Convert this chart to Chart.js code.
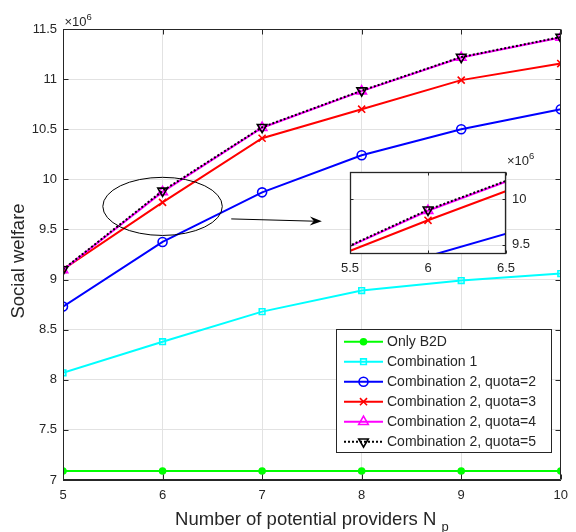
<!DOCTYPE html>
<html><head><meta charset="utf-8">
<script src="https://cdn.jsdelivr.net/npm/chart.js"></script>
<style>
html,body{margin:0;padding:0;background:#fff;}
#wrap{position:relative;width:576px;height:532px;overflow:hidden;}
#main{position:absolute;left:0;top:0;}
#inset{position:absolute;left:340px;top:150px;}
</style></head><body>
<div id="wrap"><canvas id="main" width="576" height="532"></canvas><canvas id="inset" width="206" height="135"></canvas></div>
<script>
// ---- data (values in units of 10^6) ----
const xValues = [5, 6, 7, 8, 9, 10];
const onlyB2D = [7.09, 7.09, 7.09, 7.09, 7.09, 7.09];
const combination1 = [8.07, 8.38, 8.68, 8.89, 8.99, 9.06];
const quota2 = [8.73, 9.375, 9.87, 10.24, 10.50, 10.70];
const quota3 = [9.10, 9.77, 10.41, 10.70, 10.99, 11.155];
const quota4 = [9.095, 9.875, 10.515, 10.88, 11.215, 11.415];
const quota5 = [9.10, 9.885, 10.52, 10.885, 11.22, 11.42];
const seriesLabels = ['Only B2D', 'Combination 1', 'Combination 2, quota=2',
  'Combination 2, quota=3', 'Combination 2, quota=4', 'Combination 2, quota=5'];
const xTickValues = [5, 6, 7, 8, 9, 10];
const yTickValues = [7, 7.5, 8, 8.5, 9, 9.5, 10, 10.5, 11, 11.5];
const insetXTicks = [5.5, 6, 6.5];
const insetYTicks = [9.5, 10];
const insetXRange = [5.5, 6.5];
const insetYRange = [9.4, 10.3];
const exponentLabel = '6';
const xTitle = 'Number of potential providers N ';
const xTitleSub = 'p';
const yTitle = 'Social welfare';

const AX = '#262626';
const GRID = '#e2e2e2';
const FONT = '"Liberation Sans", Arial, Helvetica, sans-serif';

const styles = [
  {color: '#00ff00', ps: 'circle', r: 3, bg: '#00ff00', dash: [], rot: 0},
  {color: '#00ffff', ps: 'rect', r: 4, bg: 'rgba(0,0,0,0)', dash: [], rot: 0},
  {color: '#0000ff', ps: 'circle', r: 4.5, bg: 'rgba(0,0,0,0)', dash: [], rot: 0},
  {color: '#ff0000', ps: 'crossRot', r: 5, bg: 'rgba(0,0,0,0)', dash: [], rot: 0},
  {color: '#ff00ff', ps: 'triangle', r: 5.5, bg: 'rgba(0,0,0,0)', dash: [], rot: 0},
  {color: '#000000', ps: 'triangle', r: 5.5, bg: 'rgba(0,0,0,0)', dash: [2, 2], rot: 180}
];
const seriesValues = [onlyB2D, combination1, quota2, quota3, quota4, quota5];

function makeDatasets(range) {
  return seriesValues.map((vals, k) => {
    const ds = {
      label: seriesLabels[k],
      data: xValues.map((x, i) => ({x: x, y: vals[i]})),
      borderColor: styles[k].color,
      backgroundColor: styles[k].bg,
      pointBackgroundColor: styles[k].bg,
      pointBorderColor: styles[k].color,
      pointStyle: styles[k].ps,
      pointRadius: styles[k].r,
      pointRotation: styles[k].rot,
      pointBorderWidth: 1.6,
      borderWidth: 2,
      borderDash: styles[k].dash,
      order: 6 - k,
      tension: 0,
      fill: false
    };
    if (range) {
      ds.clip = 0;
      ds.pointRadius = (c) => {
        const p = c.raw;
        if (!p) return styles[k].r;
        const inside = p.x >= range.x[0] && p.x <= range.x[1] && p.y >= range.y[0] && p.y <= range.y[1];
        return inside ? styles[k].r : 0;
      };
    }
    return ds;
  });
}

function drawMarker(ctx, st, x, y) {
  ctx.save();
  ctx.strokeStyle = st.color;
  ctx.fillStyle = st.bg;
  ctx.lineWidth = 1.6;
  ctx.setLineDash([]);
  if (Chart.helpers && Chart.helpers.drawPoint) {
    Chart.helpers.drawPoint(ctx, {pointStyle: st.ps, radius: st.r, rotation: st.rot, borderWidth: 1.6}, x, y);
  } else {
    ctx.beginPath(); ctx.arc(x, y, st.r, 0, Math.PI * 2); ctx.fill(); ctx.stroke();
  }
  ctx.restore();
}

const mainPlugin = {
  id: 'mainDecor',
  afterDatasetsDraw(chart) {
    const ctx = chart.ctx, a = chart.chartArea;
    const xs = chart.scales.x, ys = chart.scales.y;
    ctx.save();
    ctx.strokeStyle = AX; ctx.lineWidth = 1; ctx.setLineDash([]);
    const L = Math.round(a.left) + 0.5, R = Math.round(a.right) - 0.5;
    const T = Math.round(a.top) + 0.5, B = Math.round(a.bottom) - 0.5;
    ctx.beginPath();
    ctx.moveTo(L, T); ctx.lineTo(R, T); ctx.lineTo(R, B); ctx.lineTo(L, B); ctx.lineTo(L, T);
    ctx.stroke();
    const tl = 5;
    ctx.beginPath();
    xTickValues.forEach(v => {
      const px = Math.round(xs.getPixelForValue(v)) + 0.5;
      ctx.moveTo(px, B); ctx.lineTo(px, B - tl);
      ctx.moveTo(px, T); ctx.lineTo(px, T + tl);
    });
    yTickValues.forEach(v => {
      const py = Math.round(ys.getPixelForValue(v)) + 0.5;
      ctx.moveTo(L, py); ctx.lineTo(L + tl, py);
      ctx.moveTo(R, py); ctx.lineTo(R - tl, py);
    });
    ctx.stroke();

    // ellipse annotation (data coordinates)
    const cx = xs.getPixelForValue(6), cy = ys.getPixelForValue(9.73);
    const rx = xs.getPixelForValue(6.6) - cx, ry = cy - ys.getPixelForValue(10.02);
    ctx.strokeStyle = '#000'; ctx.lineWidth = 1;
    ctx.beginPath(); ctx.ellipse(cx, cy, rx, ry, 0, 0, Math.PI * 2); ctx.stroke();
    // arrow
    const x1 = xs.getPixelForValue(6.69), y1 = ys.getPixelForValue(9.605);
    const x2 = xs.getPixelForValue(7.6), y2 = ys.getPixelForValue(9.582);
    ctx.beginPath(); ctx.moveTo(x1, y1); ctx.lineTo(x2 - 6, y2); ctx.stroke();
    const ang = Math.atan2(y2 - y1, x2 - x1);
    ctx.save(); ctx.translate(x2, y2); ctx.rotate(ang);
    ctx.fillStyle = '#000';
    ctx.beginPath(); ctx.moveTo(0, 0); ctx.lineTo(-12, -4.5); ctx.lineTo(-8, 0); ctx.lineTo(-12, 4.5); ctx.closePath(); ctx.fill();
    ctx.restore();

    // exponent label
    ctx.fillStyle = AX; ctx.textBaseline = 'alphabetic'; ctx.textAlign = 'left';
    ctx.font = '13px ' + FONT;
    ctx.fillText('\u00d710', L + 1, T - 4);
    const w = ctx.measureText('\u00d710').width;
    ctx.font = '9.5px ' + FONT;
    ctx.fillText(exponentLabel, L + 1 + w, T - 10);

    // axis titles
    ctx.font = '18.5px ' + FONT;
    const tw = ctx.measureText(xTitle).width;
    ctx.font = '13px ' + FONT;
    const sw = ctx.measureText(xTitleSub).width;
    const tx = (a.left + a.right) / 2 - (tw + sw) / 2;
    ctx.font = '18.5px ' + FONT;
    ctx.fillText(xTitle, tx, 525);
    ctx.font = '13px ' + FONT;
    ctx.fillText(xTitleSub, tx + tw, 531);
    ctx.save();
    ctx.translate(24, 261); ctx.rotate(-Math.PI / 2);
    ctx.font = '18.5px ' + FONT; ctx.textAlign = 'center';
    ctx.fillText(yTitle, 0, 0);
    ctx.restore();

    // legend
    const lx = 336.5, ly = 329.5, lw = 215, lh = 123;
    ctx.fillStyle = '#fff'; ctx.fillRect(lx, ly, lw, lh);
    ctx.strokeStyle = AX; ctx.lineWidth = 1; ctx.strokeRect(lx, ly, lw, lh);
    chart.data.datasets.forEach((ds, k) => {
      const yy = 341.7 + k * 20;
      const st = styles[k];
      ctx.strokeStyle = st.color; ctx.lineWidth = 2; ctx.setLineDash(st.dash);
      ctx.beginPath(); ctx.moveTo(344, yy); ctx.lineTo(383, yy); ctx.stroke();
      ctx.setLineDash([]);
      drawMarker(ctx, st, 363.5, yy);
      ctx.fillStyle = AX; ctx.font = '14px ' + FONT; ctx.textAlign = 'left'; ctx.textBaseline = 'middle';
      ctx.fillText(ds.label, 387, yy + 0.5);
    });
    ctx.restore();
  }
};

new Chart(document.getElementById('main'), {
  type: 'line',
  data: {datasets: makeDatasets(null)},
  options: {
    responsive: false, animation: false, devicePixelRatio: 1,
    layout: {padding: {left: 0, right: 6, top: 29, bottom: 0}},
    plugins: {legend: {display: false}, tooltip: {enabled: false}},
    scales: {
      x: {
        type: 'linear', min: 5, max: 10,
        afterBuildTicks: s => { s.ticks = xTickValues.map(v => ({value: v})); },
        afterFit: s => { s.height = 52; },
        grid: {color: GRID, lineWidth: 1, drawTicks: false},
        border: {display: true, color: AX, width: 1},
        ticks: {color: AX, font: {size: 13, family: FONT}, padding: 8, maxRotation: 0, autoSkip: false}
      },
      y: {
        type: 'linear', min: 7, max: 11.5,
        afterBuildTicks: s => { s.ticks = yTickValues.map(v => ({value: v})); },
        afterFit: s => { s.width = 63; },
        grid: {color: GRID, lineWidth: 1, drawTicks: false},
        border: {display: true, color: AX, width: 1},
        ticks: {color: AX, font: {size: 13, family: FONT}, padding: 6, autoSkip: false,
          callback: v => String(v)}
      }
    }
  },
  plugins: [mainPlugin]
});

// ---- inset ----
const insetPlugin = {
  id: 'insetDecor',
  beforeDatasetsDraw(chart) {
    const ctx = chart.ctx, a = chart.chartArea;
    const xs = chart.scales.x, ys = chart.scales.y;
    ctx.save();
    ctx.fillStyle = '#fff';
    ctx.fillRect(a.left, a.top, a.right - a.left, a.bottom - a.top);
    ctx.strokeStyle = GRID; ctx.lineWidth = 1;
    ctx.beginPath();
    insetXTicks.forEach(v => { const p = Math.round(xs.getPixelForValue(v)) + 0.5; ctx.moveTo(p, a.top); ctx.lineTo(p, a.bottom); });
    insetYTicks.forEach(v => { const p = Math.round(ys.getPixelForValue(v)) + 0.5; ctx.moveTo(a.left, p); ctx.lineTo(a.right, p); });
    ctx.stroke();
    ctx.restore();
  },
  afterDatasetsDraw(chart) {
    const ctx = chart.ctx, a = chart.chartArea;
    const xs = chart.scales.x, ys = chart.scales.y;
    ctx.save();
    const L = Math.round(a.left) + 0.5, R = Math.round(a.right) - 0.5;
    const T = Math.round(a.top) + 0.5, B = Math.round(a.bottom) - 0.5;
    ctx.strokeStyle = AX; ctx.lineWidth = 1.3;
    ctx.strokeRect(L, T, R - L, B - T);
    ctx.lineWidth = 1;
    ctx.beginPath();
    insetXTicks.forEach(v => { const p = Math.round(xs.getPixelForValue(v)) + 0.5; ctx.moveTo(p, B); ctx.lineTo(p, B - 3); ctx.moveTo(p, T); ctx.lineTo(p, T + 3); });
    insetYTicks.forEach(v => { const p = Math.round(ys.getPixelForValue(v)) + 0.5; ctx.moveTo(R, p); ctx.lineTo(R - 3, p); ctx.moveTo(L, p); ctx.lineTo(L + 3, p); });
    ctx.stroke();
    ctx.fillStyle = AX; ctx.font = '13px ' + FONT;
    ctx.textAlign = 'center'; ctx.textBaseline = 'top';
    insetXTicks.forEach(v => ctx.fillText(String(v), xs.getPixelForValue(v), a.bottom + 8));
    ctx.textAlign = 'left'; ctx.textBaseline = 'middle';
    insetYTicks.forEach(v => ctx.fillText(String(v), a.right + 6, ys.getPixelForValue(v)));
    ctx.textBaseline = 'alphabetic';
    ctx.fillText('\u00d710', a.right + 1, a.top - 7);
    const w = ctx.measureText('\u00d710').width;
    ctx.font = '9.5px ' + FONT;
    ctx.fillText(exponentLabel, a.right + 1 + w, a.top - 13);
    ctx.restore();
  }
};

new Chart(document.getElementById('inset'), {
  type: 'line',
  data: {datasets: makeDatasets({x: insetXRange, y: insetYRange})},
  options: {
    responsive: false, animation: false, devicePixelRatio: 1,
    layout: {padding: {left: 10, right: 40, top: 22, bottom: 31}},
    plugins: {legend: {display: false}, tooltip: {enabled: false}},
    scales: {
      x: {type: 'linear', min: insetXRange[0], max: insetXRange[1], display: false},
      y: {type: 'linear', min: insetYRange[0], max: insetYRange[1], display: false}
    }
  },
  plugins: [insetPlugin]
});
</script>
</body></html>
